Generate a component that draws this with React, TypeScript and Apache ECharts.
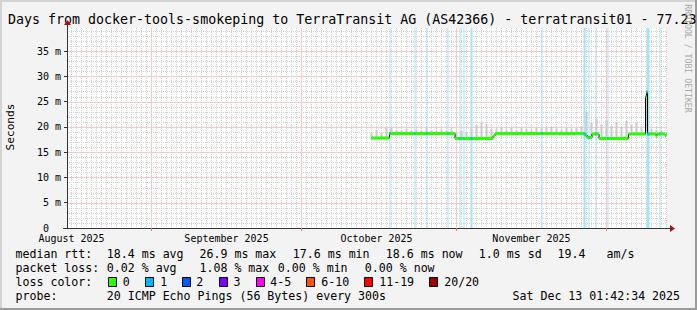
import React, { useEffect, useRef } from 'react';
import * as echarts from 'echarts';

// ---------- texts ----------
const TITLE = 'Days from docker-tools-smokeping to TerraTransit AG (AS42366) - terratransit01 - 77.23';
const WATERMARK = 'RRDTOOL / TOBI OETIKER';
const Y_TITLE = 'Seconds';

// ---------- axes (x = days since 1 Sep 2025 00:00, y = milliseconds) ----------
const X_MIN = -16.9;
const X_MAX = 103.1;
const Y_MAX = 39.55;
const MONTH_STARTS = [0, 30, 61, 91];
const MONTH_LABEL_DAYS = [-16, 15, 45, 76];
const MONTH_LABELS = ['August 2025', 'September 2025', 'October 2025', 'November 2025'];
const Y_TICKS = [0, 5, 10, 15, 20, 25, 30, 35];

// ---------- median rtt (step points: value holds until next day) ----------
const MEDIAN_DAYS = [43.9, 47.6, 60.7, 68.3, 68.7, 86.7, 87.1, 88.1, 89.5, 95.4, 98.8, 99.0, 99.2, 100.9, 101.1, 102.7, 102.9];
const MEDIAN_MS = [17.8, 18.7, 17.7, 18.2, 18.7, 18.4, 17.9, 18.6, 17.7, 18.6, 26.0, 26.9, 18.6, 18.2, 18.6, 18.3, 18.6];
const MEDIAN_END = 103.1;

// ---------- smoke (upper edge of the ping spread) ----------
const SMOKE_DAYS = [44, 45, 46, 47, 48, 49, 50, 51, 52, 53, 54, 55, 56, 57, 58, 59, 60, 61, 62, 63, 64, 65, 66, 67, 68, 69, 70, 71, 72, 73, 74, 75, 76, 77, 78, 79, 80, 81, 82, 83, 84, 85, 86, 87, 88, 89, 90, 91, 92, 93, 94, 95, 96, 97, 98, 99, 100, 101, 102];
const SMOKE_TOP_MS = [18.9, 19.4, 19.0, 19.8, 19.8, 19.4, 19.3, 19.6, 19.2, 19.5, 19.3, 19.7, 19.4, 19.2, 19.5, 19.3, 19.6, 18.8, 19.2, 19.0, 19.6, 20.4, 21.0, 20.6, 19.6, 19.6, 19.9, 19.5, 19.8, 19.4, 19.9, 19.6, 19.5, 19.8, 19.6, 19.9, 20.0, 19.7, 19.5, 19.9, 19.6, 19.8, 20.1, 23.0, 20.8, 21.6, 20.4, 21.3, 20.2, 21.0, 20.0, 21.2, 20.4, 20.8, 19.9, 19.5, 19.6, 19.4, 19.3];

// ---------- packet loss samples (bucket "1") ----------
const LOSS_START = [47.6, 52.6, 55.0, 59.2, 61.6, 62.4, 63.8, 78.0, 86.4, 87.4, 88.8, 91.2, 99.0, 101.6];
const LOSS_SPAN = [0.2, 0.2, 0.2, 0.2, 0.2, 0.2, 0.4, 0.2, 0.4, 0.2, 0.2, 0.2, 0.6, 0.2];

// ---------- legend ----------
const LOSS_LABELS = ['0', '1', '2', '3', '4-5', '6-10', '11-19', '20/20'];
const LOSS_COLORS = ['#26ff00', '#00b8ff', '#0059ff', '#7e00ff', '#ff00ff', '#ff5500', '#ff0000', '#a10000'];
const ROW1 = ['median rtt:', '18.4 ms avg', '26.9 ms max', '17.6 ms min', '18.6 ms now', '1.0 ms sd', '19.4', 'am/s'];
const ROW2 = ['packet loss:', '0.02 % avg', '1.08 % max', '0.00 % min', '0.00 % now'];
const ROW3 = ['loss color:'];
const ROW4 = ['probe:', '20 ICMP Echo Pings (56 Bytes) every 300s', 'Sat Dec 13 01:42:34 2025'];

// ---------- layout ----------
const GRID_LEFT = 67;
const GRID_TOP = 28;
const GRID_W = 600;
const GRID_H = 200;
const MONO = '"DejaVu Sans Mono", monospace';
const ROW1_X = [15.5, 106.8, 199.5, 292.8, 385.8, 478.8, 557.5, 606.5];
const ROW2_X = [15.5, 106.8, 199.5, 277.8, 364.8];
const ROW4_X = [15.5, 106.8, 512.5];
const ROW_Y = [254.3, 268.3, 282.3, 296];
const SWATCH_X = [108.5, 145.5, 182.5, 219.5, 256.5, 306.5, 364.5, 429.5];
const LOSS_TEXT_X = [122.8, 160.2, 196.2, 233.5, 270.2, 321.2, 379.2, 444.2];

function medianAt(d: number): number {
  let v = MEDIAN_MS[0];
  for (let i = 0; i < MEDIAN_DAYS.length; i++) {
    if (MEDIAN_DAYS[i] <= d + 1e-6) v = MEDIAN_MS[i];
  }
  return v;
}

function majorGridSeries(items: number[][], color: string, z: number) {
  // items: [value, orientation (0 = vertical line at a day, 1 = horizontal line at a ms value)]
  return {
    type: 'custom',
    z,
    silent: true,
    data: items,
    encode: { x: 0, y: 1 },
    renderItem: (params: any, api: any) => {
      const cs = params.coordSys;
      const v = api.value(0);
      const horiz = api.value(1) > 0.5;
      if (horiz) {
        const y = Math.round(api.coord([X_MIN, v])[1]);
        return { type: 'rect', shape: { x: cs.x, y, width: cs.width, height: 1 }, style: { fill: color } };
      }
      const x = Math.floor(api.coord([v, 0])[0]);
      return { type: 'rect', shape: { x, y: cs.y, width: 1, height: cs.height }, style: { fill: color } };
    },
  };
}

function minorGridSeries(items: number[][], color: string, z: number) {
  return {
    type: 'custom',
    z,
    silent: true,
    data: items,
    encode: { x: 0, y: 1 },
    renderItem: (params: any, api: any) => {
      const cs = params.coordSys;
      const v = api.value(0);
      const horiz = api.value(1) > 0.5;
      const style = { stroke: color, fill: null, lineWidth: 1, lineDash: [1, 1] };
      if (horiz) {
        const y = Math.round(api.coord([X_MIN, v])[1]) + 0.5;
        return { type: 'line', shape: { x1: cs.x, y1: y, x2: cs.x + cs.width, y2: y }, style };
      }
      const x = Math.floor(api.coord([v, 0])[0]) + 0.5;
      return { type: 'line', shape: { x1: x, y1: cs.y, x2: x, y2: cs.y + cs.height }, style };
    },
  };
}

function buildOption(): any {
  const GRAY = '#cfcfcf';
  const RED = '#f8c8c8';
  const minorItems: number[][] = [];
  const majorItems: number[][] = [];
  for (let d = Math.ceil(X_MIN); d <= Math.floor(X_MAX); d++) {
    (MONTH_STARTS.indexOf(d) >= 0 ? majorItems : minorItems).push([d, 0]);
  }
  for (let v = 1; v < Y_MAX; v++) {
    (v % 5 === 0 ? majorItems : minorItems).push([v, 1]);
  }

  const segData = MEDIAN_DAYS.map((d, i) => [d, i + 1 < MEDIAN_DAYS.length ? MEDIAN_DAYS[i + 1] : MEDIAN_END, MEDIAN_MS[i]]);
  const stepData = MEDIAN_DAYS.map((d, i) => [d, MEDIAN_MS[i]]);
  stepData.push([MEDIAN_END, MEDIAN_MS[MEDIAN_MS.length - 1]]);
  const smokeData = SMOKE_DAYS.map((d, i) => [d, medianAt(d) - 0.3, SMOKE_TOP_MS[i]]);
  const lossBg = LOSS_START.map((d, i) => [d, d + LOSS_SPAN[i]]);
  const lossMarks: number[][] = [];
  LOSS_START.forEach((d, i) => {
    const n = Math.round(LOSS_SPAN[i] / 0.2);
    for (let k = 0; k < n; k++) {
      const s = d + k * 0.2;
      lossMarks.push([s, s + 0.2, medianAt(s + 0.1)]);
    }
  });

  const txt = (text: string, x: number, y: number, size: number, extra: any = {}) => ({
    type: 'text',
    x,
    y,
    silent: true,
    ...extra,
    style: { text, fontFamily: MONO, fontSize: size, fill: '#000', align: 'left', verticalAlign: 'middle', ...(extra.style || {}) },
  });

  const graphics: any[] = [
    { type: 'rect', silent: true, shape: { x: 0, y: 0, width: 697, height: 2 }, style: { fill: '#d4d4d4' } },
    { type: 'rect', silent: true, shape: { x: 0, y: 0, width: 2, height: 310 }, style: { fill: '#d4d4d4' } },
    { type: 'rect', silent: true, shape: { x: 695, y: 0, width: 2, height: 310 }, style: { fill: '#9c9c9c' } },
    { type: 'rect', silent: true, shape: { x: 0, y: 308, width: 697, height: 2 }, style: { fill: '#9c9c9c' } },
    txt(TITLE, 8, 19.3, 13.3),
    txt(WATERMARK, 687.5, 58.5, 8.2, { rotation: -Math.PI / 2, style: { align: 'center', fill: '#a8a8a8' } }),
    txt(Y_TITLE, 10.5, 127, 11.2, { rotation: Math.PI / 2, style: { align: 'center' } }),
    // axis extensions and arrow heads
    { type: 'line', silent: true, shape: { x1: GRID_LEFT + 0.5, y1: GRID_TOP, x2: GRID_LEFT + 0.5, y2: GRID_TOP - 4 }, style: { stroke: '#333', lineWidth: 1 } },
    { type: 'polygon', silent: true, shape: { points: [[GRID_LEFT - 3, GRID_TOP - 3], [GRID_LEFT + 4, GRID_TOP - 3], [GRID_LEFT + 0.5, GRID_TOP - 8]] }, style: { fill: '#b01010' } },
    { type: 'line', silent: true, shape: { x1: GRID_LEFT + GRID_W, y1: GRID_TOP + GRID_H + 0.5, x2: GRID_LEFT + GRID_W + 4, y2: GRID_TOP + GRID_H + 0.5 }, style: { stroke: '#333', lineWidth: 1 } },
    { type: 'polygon', silent: true, shape: { points: [[GRID_LEFT + GRID_W + 3, GRID_TOP + GRID_H - 3], [GRID_LEFT + GRID_W + 3, GRID_TOP + GRID_H + 4], [GRID_LEFT + GRID_W + 8, GRID_TOP + GRID_H + 0.5]] }, style: { fill: '#b01010' } },
    { type: 'line', silent: true, shape: { x1: GRID_LEFT - 4, y1: GRID_TOP + GRID_H + 0.5, x2: GRID_LEFT, y2: GRID_TOP + GRID_H + 0.5 }, style: { stroke: '#333', lineWidth: 1 } },
  ];
  ROW1.forEach((t, i) => graphics.push(txt(t, ROW1_X[i], ROW_Y[0], 11.6)));
  ROW2.forEach((t, i) => graphics.push(txt(t, ROW2_X[i], ROW_Y[1], 11.6)));
  graphics.push(txt(ROW3[0], 15.5, ROW_Y[2], 11.6));
  LOSS_LABELS.forEach((t, i) => {
    graphics.push({ type: 'rect', silent: true, shape: { x: SWATCH_X[i], y: 277.5, width: 8, height: 9 }, style: { fill: LOSS_COLORS[i], stroke: '#000', lineWidth: 1 } });
    graphics.push(txt(t, LOSS_TEXT_X[i], ROW_Y[2], 11.6));
  });
  ROW4.forEach((t, i) => graphics.push(txt(t, ROW4_X[i], ROW_Y[3], 11.6)));

  return {
    animation: false,
    backgroundColor: '#f3f3f3',
    grid: { left: GRID_LEFT, top: GRID_TOP, width: GRID_W, height: GRID_H, show: true, backgroundColor: '#ffffff', borderWidth: 0 },
    xAxis: {
      type: 'value',
      min: X_MIN,
      max: X_MAX,
      z: 10,
      axisLine: { show: true, onZero: false, lineStyle: { color: '#333', width: 1 } },
      axisTick: { show: true, customValues: MONTH_STARTS, length: 3, lineStyle: { color: '#f07070' } },
      axisLabel: {
        customValues: MONTH_LABEL_DAYS,
        formatter: (v: number) => {
          const i = MONTH_LABEL_DAYS.indexOf(Math.round(v));
          return i >= 0 ? MONTH_LABELS[i] : '';
        },
        fontFamily: MONO,
        fontSize: 10,
        lineHeight: 10,
        color: '#000',
        margin: 5,
      },
      splitLine: { show: false },
    },
    yAxis: {
      type: 'value',
      min: 0,
      max: Y_MAX,
      z: 10,
      axisLine: { show: true, onZero: false, lineStyle: { color: '#333', width: 1 } },
      axisTick: { show: true, customValues: Y_TICKS, length: 3, lineStyle: { color: '#333' } },
      axisLabel: {
        customValues: Y_TICKS,
        formatter: (v: number) => (v === 0 ? '0\u00a0\u00a0' : `${v} m`),
        fontFamily: MONO,
        fontSize: 10,
        lineHeight: 10,
        color: '#000',
        margin: 6,
      },
      splitLine: { show: false },
    },
    graphic: graphics,
    series: [
      minorGridSeries(minorItems, GRAY, 1),
      majorGridSeries(majorItems, RED, 1),
      {
        type: 'custom',
        z: 2,
        silent: true,
        data: lossBg,
        encode: { x: [0, 1] },
        renderItem: (params: any, api: any) => {
          const cs = params.coordSys;
          const a = api.coord([api.value(0), 0]);
          const b = api.coord([api.value(1), 0]);
          return { type: 'rect', shape: { x: a[0], y: cs.y, width: Math.max(1, b[0] - a[0]), height: cs.height }, style: { fill: '#a6e3f7' } };
        },
      },
      {
        type: 'custom',
        z: 3,
        silent: true,
        data: smokeData,
        encode: { x: 0, y: [1, 2] },
        renderItem: (params: any, api: any) => {
          const lo = api.coord([api.value(0), api.value(1)]);
          const hi = api.coord([api.value(0), api.value(2)]);
          return { type: 'rect', shape: { x: lo[0] - 1, y: hi[1], width: 2, height: lo[1] - hi[1] }, style: { fill: '#c8c8c8' } };
        },
      },
      {
        type: 'line',
        z: 4,
        silent: true,
        data: stepData,
        step: 'end',
        showSymbol: false,
        lineStyle: { color: '#000', width: 1 },
      },
      {
        type: 'custom',
        z: 5,
        silent: true,
        data: segData,
        encode: { x: [0, 1], y: 2 },
        renderItem: (params: any, api: any) => {
          const a = api.coord([api.value(0), api.value(2)]);
          const b = api.coord([api.value(1), api.value(2)]);
          return { type: 'rect', shape: { x: a[0], y: a[1] - 1.5, width: Math.max(1, b[0] - a[0]), height: 3 }, style: { fill: LOSS_COLORS[0] } };
        },
      },
      {
        type: 'custom',
        z: 6,
        silent: true,
        data: lossMarks,
        encode: { x: [0, 1], y: 2 },
        renderItem: (params: any, api: any) => {
          const a = api.coord([api.value(0), api.value(2)]);
          const b = api.coord([api.value(1), api.value(2)]);
          return { type: 'rect', shape: { x: a[0], y: a[1] - 1.5, width: Math.max(1, b[0] - a[0]), height: 3 }, style: { fill: LOSS_COLORS[1] } };
        },
      },
    ],
  };
}

export default function App() {
  const ref = useRef<HTMLDivElement>(null);
  useEffect(() => {
    if (!ref.current) return;
    const chart = echarts.init(ref.current, null, { renderer: 'svg' });
    chart.setOption(buildOption());
    return () => chart.dispose();
  }, []);
  return <div ref={ref} style={{ position: 'fixed', left: 0, top: 0, width: 697, height: 310 }} />;
}
